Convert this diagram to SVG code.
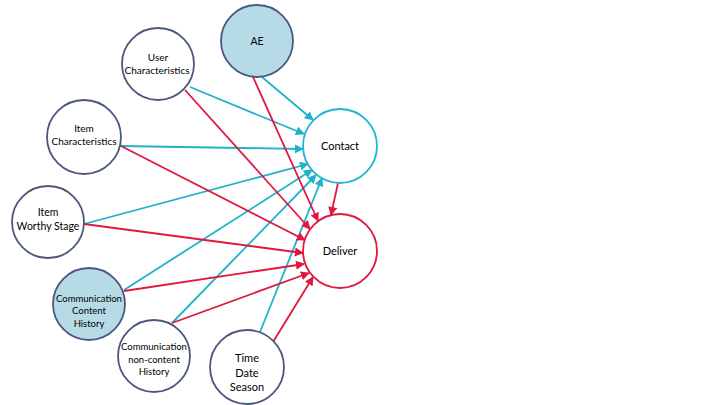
<svg xmlns="http://www.w3.org/2000/svg" width="720" height="405" viewBox="0 0 720 405">
<defs>
<style>
.n{fill:#fff;stroke:#4b577f;stroke-width:1.8}
.f{fill:#b6dbe7}
.t{font-family:Lato,"Open Sans","Liberation Sans",sans-serif;fill:#000;text-anchor:middle}
.c{stroke:#1fb2c8;stroke-width:1.8;fill:none;marker-end:url(#ac)}
.r{stroke:#e0173f;stroke-width:1.8;fill:none;marker-end:url(#ar)}
</style>
<marker id="ac" viewBox="0 0 10 10" refX="9" refY="5" markerWidth="9" markerHeight="9" markerUnits="userSpaceOnUse" orient="auto"><path d="M0,0L10,5L0,10z" fill="#1fb2c8"/></marker>
<marker id="ar" viewBox="0 0 10 10" refX="9" refY="5" markerWidth="9" markerHeight="9" markerUnits="userSpaceOnUse" orient="auto"><path d="M0,0L10,5L0,10z" fill="#e0173f"/></marker>
</defs>
<rect width="720" height="405" fill="#fff"/>
<g id="connectors">
<line class="c" x1="262" y1="77" x2="313" y2="120"/>
<line class="c" x1="190" y1="87" x2="304" y2="134"/>
<line class="c" x1="121" y1="146" x2="303" y2="149"/>
<line class="c" x1="84" y1="224" x2="308" y2="164"/>
<line class="c" x1="124" y1="290" x2="312" y2="170"/>
<line class="c" x1="172" y1="323" x2="316" y2="175"/>
<line class="c" x1="260" y1="332" x2="322" y2="178"/>
<line class="r" x1="253" y1="77" x2="318" y2="221"/>
<line class="r" x1="185" y1="90" x2="310" y2="229"/>
<line class="r" x1="121" y1="146" x2="305" y2="240"/>
<line class="r" x1="84" y1="224" x2="303" y2="253"/>
<line class="r" x1="124" y1="291" x2="304" y2="264"/>
<line class="r" x1="172" y1="323" x2="309" y2="273"/>
<line class="r" x1="273" y1="342" x2="313" y2="277"/>
<line class="r" x1="338" y1="183" x2="331" y2="215"/>
</g>
<g id="user"><circle class="n" cx="158" cy="64" r="36"/><text class="t" font-size="10" x="158" y="61">User</text><text class="t" font-size="10" x="157" y="74">Characteristics</text></g>
<g id="ae"><circle class="n f" cx="257" cy="41" r="36"/><text class="t" font-size="10.5" x="257" y="45">AE</text></g>
<g id="item"><circle class="n" cx="84" cy="137" r="37"/><text class="t" font-size="10" x="84" y="132">Item</text><text class="t" font-size="10" x="84" y="145">Characteristics</text></g>
<g id="worthy"><circle class="n" cx="48" cy="222" r="36"/><text class="t" font-size="10.5" x="48" y="216">Item</text><text class="t" font-size="10.5" x="48" y="230">Worthy Stage</text></g>
<g id="commcontent"><circle class="n f" cx="89" cy="304" r="36"/><text class="t" font-size="9.5" x="89" y="302">Communication</text><text class="t" font-size="9.5" x="89" y="314">Content</text><text class="t" font-size="9.5" x="89" y="327">History</text></g>
<g id="commnon"><circle class="n" cx="154" cy="356" r="36"/><text class="t" font-size="9.5" x="154" y="350">Communication</text><text class="t" font-size="9.5" x="154" y="363">non-content</text><text class="t" font-size="9.5" x="154" y="375">History</text></g>
<g id="time"><circle class="n" cx="247" cy="367" r="37"/><text class="t" font-size="11" x="247" y="362">Time</text><text class="t" font-size="11" x="247" y="377">Date</text><text class="t" font-size="11" x="247" y="391">Season</text></g>
<g id="contact"><circle cx="340" cy="146" r="37" fill="#fff" stroke="#22b5d3" stroke-width="1.8"/><text class="t" font-size="11" x="340" y="150">Contact</text></g>
<g id="deliver"><circle cx="340" cy="251" r="37" fill="#fff" stroke="#e0173f" stroke-width="1.8"/><text class="t" font-size="11" x="340" y="255">Deliver</text></g>
</svg>
